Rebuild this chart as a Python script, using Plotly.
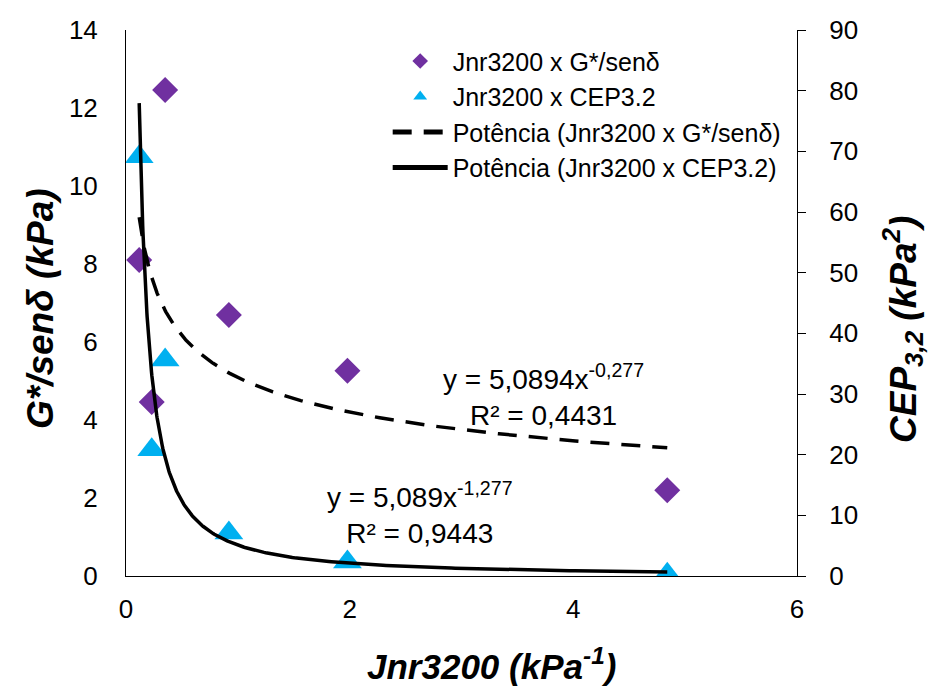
import numpy as np
import plotly.graph_objects as go

# ---- data ----
jnr = [0.118, 0.35, 0.23, 0.92, 1.98, 4.84]
g_sen = [8.1, 12.46, 4.46, 6.69, 5.26, 2.2]
cep32 = [69.1, 35.6, 20.8, 7.1, 2.3, 0.3]

# power trendlines as printed on the chart: y = a * x^b
g_trend_a, g_trend_b = 5.0894, -0.277
cep_trend_a, cep_trend_b = 5.089, -1.277

x_ticks = [0, 2, 4, 6]
y_ticks = [0, 2, 4, 6, 8, 10, 12, 14]
y2_ticks = [0, 10, 20, 30, 40, 50, 60, 70, 80, 90]

FONT = "Liberation Sans, Arial, sans-serif"

W, H = 939, 688
ML, MR, MT, MB = 126, 142, 30, 112
PW, PH = W - ML - MR, H - MT - MB


def px_to_paper(px, py):
    return (px - ML) / PW, (H - MB - py) / PH


xt = np.geomspace(min(jnr), max(jnr), 300)
g_fit = g_trend_a * xt ** g_trend_b
cep_fit = cep_trend_a * xt ** cep_trend_b

fig = go.Figure()
fig.add_trace(go.Scatter(
    x=jnr, y=g_sen, mode="markers", name="Jnr3200 x G*/senδ",
    marker=dict(symbol="diamond", size=20, color="#7030A0"),
    yaxis="y"))
fig.add_trace(go.Scatter(
    x=jnr, y=cep32, mode="markers", name="Jnr3200 x CEP3.2",
    marker=dict(symbol="triangle-up", size=25, color="#00B0F0"),
    yaxis="y2"))
fig.add_trace(go.Scatter(
    x=xt, y=g_fit, mode="lines", name="Potência (Jnr3200 x G*/senδ)",
    line=dict(color="black", width=3.5, dash="19px,12px"),
    yaxis="y"))
fig.add_trace(go.Scatter(
    x=xt, y=cep_fit, mode="lines", name="Potência (Jnr3200 x CEP3.2)",
    line=dict(color="black", width=3.5),
    yaxis="y2"))

fig.add_annotation(x=3.73, y=4.64, xref="x", yref="y",
                   text="y = 5,0894x<sup>-0,277</sup><br>R² = 0,4431",
                   showarrow=False, font=dict(family=FONT, size=28, color="black"),
                   align="center")
fig.add_annotation(x=2.63, y=1.62, xref="x", yref="y",
                   text="y = 5,089x<sup>-1,277</sup><br>R² = 0,9443",
                   showarrow=False, font=dict(family=FONT, size=28, color="black"),
                   align="center")

# axis titles (placed as in the reference, slightly off-centre)
tx, ty = px_to_paper(491, 664)
fig.add_annotation(x=tx, y=ty, xref="paper", yref="paper",
                   text="<b><i>Jnr3200 (kPa<sup>-1</sup>)</i></b>",
                   showarrow=False, font=dict(family=FONT, size=35, color="black"),
                   xanchor="center", yanchor="middle")
tx, ty = px_to_paper(40, 309)
fig.add_annotation(x=tx, y=ty, xref="paper", yref="paper",
                   text="<b><i>G*/senδ (kPa)</i></b>", textangle=-90,
                   showarrow=False, font=dict(family=FONT, size=37, color="black"),
                   xanchor="center", yanchor="middle")
tx, ty = px_to_paper(902, 330)
fig.add_annotation(x=tx, y=ty, xref="paper", yref="paper",
                   text="<b><i>CEP<sub>3,2</sub> (kPa<sup>2</sup>)</i></b>", textangle=-90,
                   showarrow=False, font=dict(family=FONT, size=37, color="black"),
                   xanchor="center", yanchor="middle")

fig.update_layout(
    width=W, height=H,
    margin=dict(l=ML, r=MR, t=MT, b=MB),
    paper_bgcolor="white", plot_bgcolor="white",
    font=dict(family=FONT, color="black"),
    showlegend=True,
    legend=dict(x=0.39, y=0.985, xanchor="left", yanchor="top",
                bgcolor="rgba(0,0,0,0)", font=dict(family=FONT, size=25),
                itemwidth=55, tracegroupgap=0, itemsizing="constant"),
    xaxis=dict(range=[0, 6], tickvals=x_ticks, showgrid=False, zeroline=False,
               showline=True, linecolor="black", linewidth=1, ticks="",
               tickfont=dict(size=26), ticklabelstandoff=10),
    yaxis=dict(range=[0, 14], tickvals=y_ticks, showgrid=False, zeroline=False,
               showline=True, linecolor="black", linewidth=1, ticks="",
               tickfont=dict(size=26), ticklabelstandoff=22),
    yaxis2=dict(range=[0, 90], tickvals=y2_ticks, overlaying="y", side="right",
                showgrid=False, zeroline=False, showline=True, linecolor="black",
                linewidth=1, ticks="outside", ticklen=8, tickcolor="black",
                tickfont=dict(size=26), ticklabelstandoff=18),
)

fig.write_html("out.html")
